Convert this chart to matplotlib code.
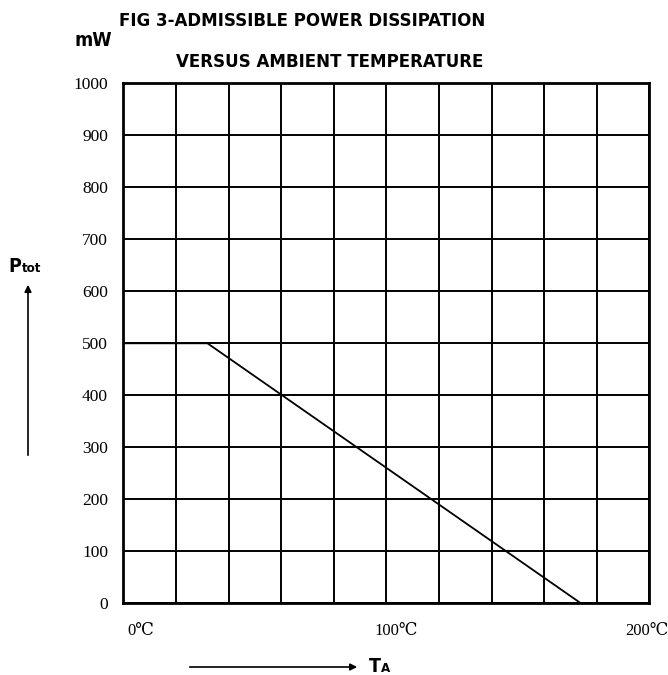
import matplotlib.pyplot as plt
import matplotlib.transforms as mtransforms

# derating curve
temps = [0, 32, 174]
power = [500, 500, 0]

y_ticks = [0, 100, 200, 300, 400, 500, 600, 700, 800, 900, 1000]
x_ticks = [0, 100, 200]
x_labels = ['0℃', '100℃', '200℃']

serif = ['Liberation Serif', 'DejaVu Serif']
heavy = ['DejaVu Sans']

fig = plt.figure(figsize=(6.68, 6.75), dpi=100)
ax = fig.add_axes([0.1846, 0.1062, 0.7874, 0.7704])

ax.plot(temps, power, color='black', lw=1.3)

ax.set_xlim(0, 200)
ax.set_ylim(0, 1000)
ax.set_xticks(range(0, 201, 20), minor=True)
ax.set_xticks(x_ticks)
ax.set_xticklabels(x_labels, family=serif, fontsize=12)
ax.set_yticks(y_ticks)
ax.set_yticklabels([str(v) for v in y_ticks], family=serif, fontsize=12.5)
ax.grid(True, which='both', color='black', lw=1.4)
ax.tick_params(which='both', length=0)
ax.tick_params(axis='y', pad=11)
ax.tick_params(axis='x', pad=14)
for s in ax.spines.values():
    s.set_linewidth(2)
    s.set_color('black')

# shift x labels a bit to the right like the original
shifts = [17, 10, -2]
for lab, dx in zip(ax.get_xticklabels(), shifts):
    lab.set_transform(lab.get_transform() +
                      mtransforms.ScaledTranslation(dx / 100, 0, fig.dpi_scale_trans))

tkw = dict(family=heavy, fontstretch='condensed', fontweight='bold')
fig.text(302 / 668, 1 - 21 / 675, 'FIG 3-ADMISSIBLE POWER DISSIPATION', ha='center', va='center',
         fontsize=13.3, **tkw)
fig.text(330 / 668, 1 - 62 / 675, 'VERSUS AMBIENT TEMPERATURE', ha='center', va='center',
         fontsize=13.3, **tkw)
fig.text(93 / 668, 1 - 41 / 675, 'mW', ha='center', va='center', fontsize=14, **tkw)

# y axis quantity with arrow
fig.text(8 / 668, 1 - 267 / 675, 'P', ha='left', va='center', fontsize=14, **tkw)
fig.text(22 / 668, 1 - 269 / 675, 'tot', ha='left', va='center', fontsize=9.5, **tkw)
fig.add_artist(plt.Annotation('', xy=(28 / 668, 1 - 282 / 675), xytext=(28 / 668, 1 - 458 / 675),
                              xycoords='figure fraction',
                              arrowprops=dict(arrowstyle='-|>', color='black', lw=1.2,
                                              mutation_scale=10)))

# x axis quantity with arrow
fig.add_artist(plt.Annotation('', xy=(360 / 668, 1 - 667 / 675), xytext=(187 / 668, 1 - 667 / 675),
                              xycoords='figure fraction',
                              arrowprops=dict(arrowstyle='-|>', color='black', lw=1.2,
                                              mutation_scale=10)))
fig.text(369 / 668, 1 - 666 / 675, 'T', ha='left', va='center', fontsize=14, **tkw)
fig.text(381 / 668, 1 - 668 / 675, 'A', ha='left', va='center', fontsize=9.5, **tkw)

fig.savefig('out.png', dpi=100)
